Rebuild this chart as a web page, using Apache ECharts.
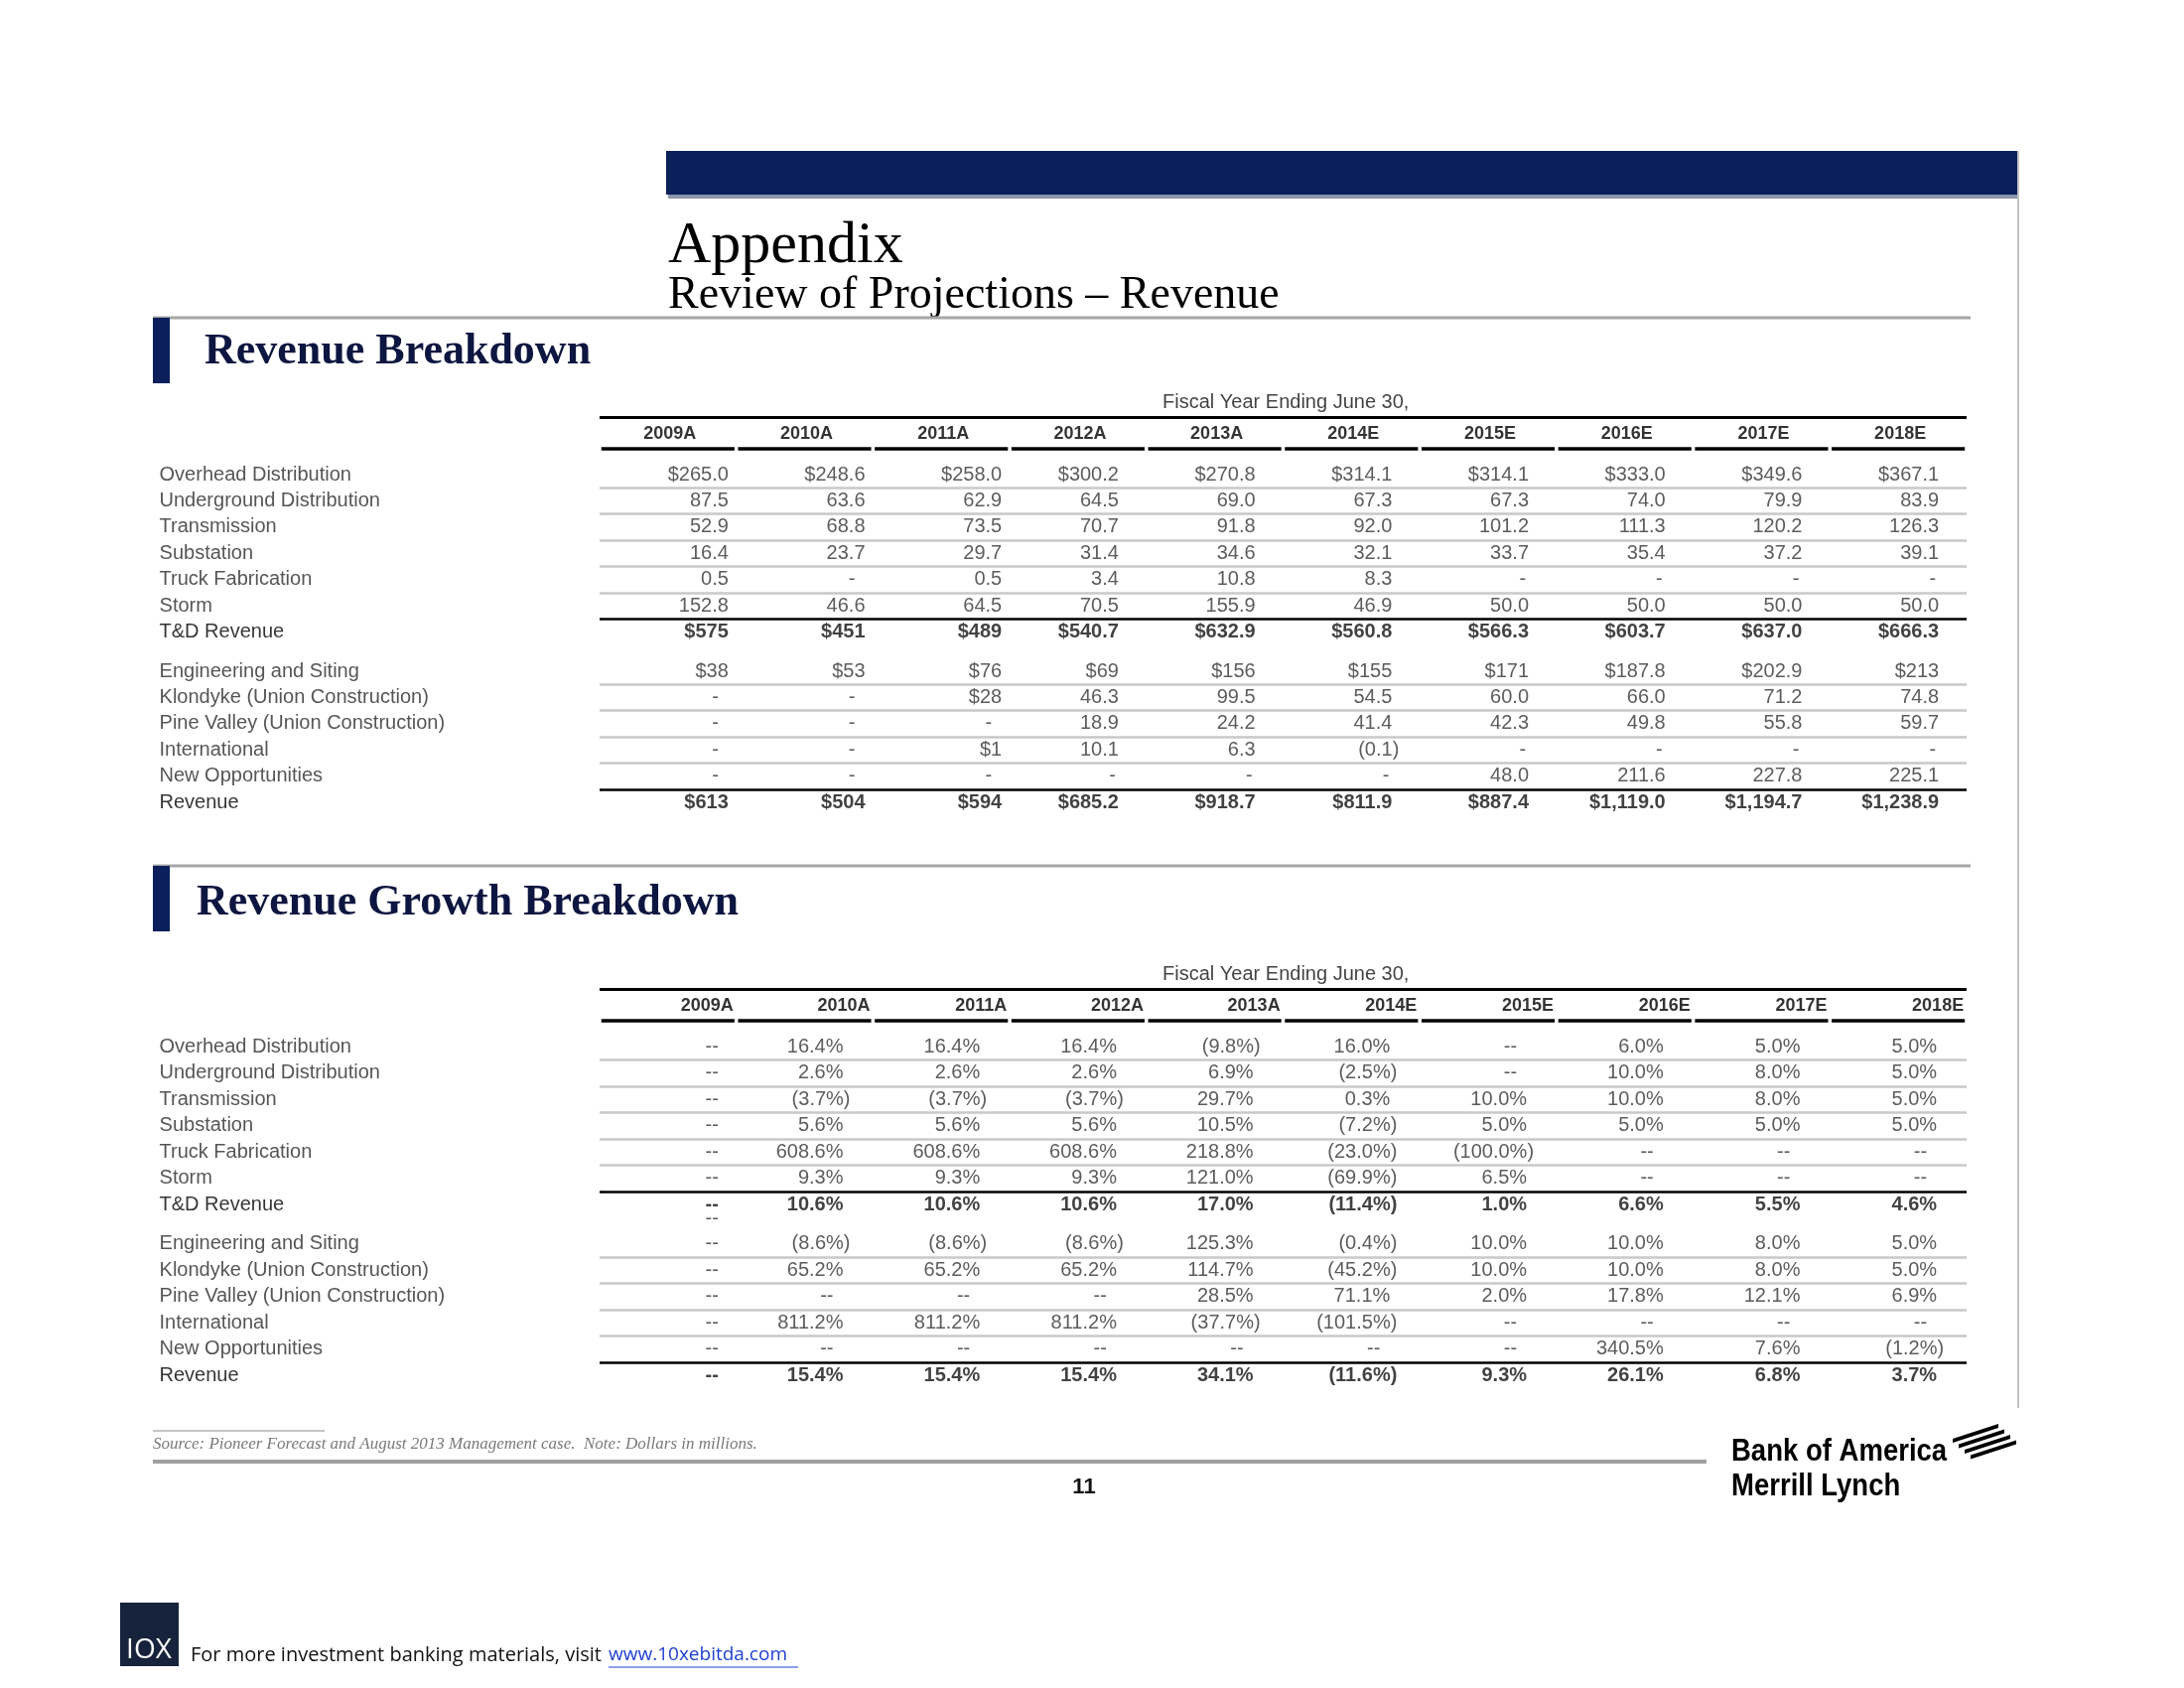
<!DOCTYPE html>
<html><head><meta charset="utf-8">
<script src="https://cdn.jsdelivr.net/npm/echarts@6/dist/echarts.min.js"></script>
<style>html,body{margin:0;padding:0;background:#fff}#c{width:2200px;height:1700px}</style>
</head><body><div id="c"></div>
<script>
// ---------------- DATA ----------------
const columns = ['2009A','2010A','2011A','2012A','2013A','2014E','2015E','2016E','2017E','2018E'];
const rowLabels = ['Overhead Distribution','Underground Distribution','Transmission','Substation','Truck Fabrication','Storm','T&D Revenue',
  'Engineering and Siting','Klondyke (Union Construction)','Pine Valley (Union Construction)','International','New Opportunities','Revenue'];
const fiscalNote = 'Fiscal Year Ending June 30,';

// Revenue Breakdown (dollars in millions, as printed)
const revOverhead      = ['$265.0','$248.6','$258.0','$300.2','$270.8','$314.1','$314.1','$333.0','$349.6','$367.1'];
const revUnderground   = ['87.5','63.6','62.9','64.5','69.0','67.3','67.3','74.0','79.9','83.9'];
const revTransmission  = ['52.9','68.8','73.5','70.7','91.8','92.0','101.2','111.3','120.2','126.3'];
const revSubstation    = ['16.4','23.7','29.7','31.4','34.6','32.1','33.7','35.4','37.2','39.1'];
const revTruck         = ['0.5','-','0.5','3.4','10.8','8.3','-','-','-','-'];
const revStorm         = ['152.8','46.6','64.5','70.5','155.9','46.9','50.0','50.0','50.0','50.0'];
const revTD            = ['$575','$451','$489','$540.7','$632.9','$560.8','$566.3','$603.7','$637.0','$666.3'];
const revEngineering   = ['$38','$53','$76','$69','$156','$155','$171','$187.8','$202.9','$213'];
const revKlondyke      = ['-','-','$28','46.3','99.5','54.5','60.0','66.0','71.2','74.8'];
const revPineValley    = ['-','-','-','18.9','24.2','41.4','42.3','49.8','55.8','59.7'];
const revInternational = ['-','-','$1','10.1','6.3','(0.1)','-','-','-','-'];
const revNewOpp        = ['-','-','-','-','-','-','48.0','211.6','227.8','225.1'];
const revTotal         = ['$613','$504','$594','$685.2','$918.7','$811.9','$887.4','$1,119.0','$1,194.7','$1,238.9'];

// Revenue Growth Breakdown
const grwOverhead      = ['--','16.4%','16.4%','16.4%','(9.8%)','16.0%','--','6.0%','5.0%','5.0%'];
const grwUnderground   = ['--','2.6%','2.6%','2.6%','6.9%','(2.5%)','--','10.0%','8.0%','5.0%'];
const grwTransmission  = ['--','(3.7%)','(3.7%)','(3.7%)','29.7%','0.3%','10.0%','10.0%','8.0%','5.0%'];
const grwSubstation    = ['--','5.6%','5.6%','5.6%','10.5%','(7.2%)','5.0%','5.0%','5.0%','5.0%'];
const grwTruck         = ['--','608.6%','608.6%','608.6%','218.8%','(23.0%)','(100.0%)','--','--','--'];
const grwStorm         = ['--','9.3%','9.3%','9.3%','121.0%','(69.9%)','6.5%','--','--','--'];
const grwTD            = ['--','10.6%','10.6%','10.6%','17.0%','(11.4%)','1.0%','6.6%','5.5%','4.6%'];
const grwEngineering   = ['--','(8.6%)','(8.6%)','(8.6%)','125.3%','(0.4%)','10.0%','10.0%','8.0%','5.0%'];
const grwKlondyke      = ['--','65.2%','65.2%','65.2%','114.7%','(45.2%)','10.0%','10.0%','8.0%','5.0%'];
const grwPineValley    = ['--','--','--','--','28.5%','71.1%','2.0%','17.8%','12.1%','6.9%'];
const grwInternational = ['--','811.2%','811.2%','811.2%','(37.7%)','(101.5%)','--','--','--','--'];
const grwNewOpp        = ['--','--','--','--','--','--','--','340.5%','7.6%','(1.2%)'];
const grwTotal         = ['--','15.4%','15.4%','15.4%','34.1%','(11.6%)','9.3%','26.1%','6.8%','3.7%'];
const grwStray2009     = '--';   // stray mark printed under T&D in the 2009A column

const revenueRows = [revOverhead,revUnderground,revTransmission,revSubstation,revTruck,revStorm,revTD,
  revEngineering,revKlondyke,revPineValley,revInternational,revNewOpp,revTotal];
const growthRows = [grwOverhead,grwUnderground,grwTransmission,grwSubstation,grwTruck,grwStorm,grwTD,
  grwEngineering,grwKlondyke,grwPineValley,grwInternational,grwNewOpp,grwTotal];

// ---------------- LAYOUT ----------------
const rowPos = i => (i <= 6 ? i : i + 0.5);
const LABEL_X = -3.72, HEADER_Y = -1.55, UNDER_Y = -1.0, TOP_Y = -2.17, FISCAL_Y = -2.75, FISCAL_X = 4.52;
const boldRows = [6, 12];
const FONT = 'Liberation Sans, Arial, sans-serif';
const isParen = s => s.charAt(0) === '(';
const isDash = s => s === '-' || s === '--';

function topOffset(c, s) {
  if (isDash(s)) return c <= 2 ? 51 : 38;
  if (c <= 2) return 61;
  return isParen(s) ? 48 : 41;
}
function botOffset(c, s) {
  if (isDash(s)) return c === 0 ? 51 : 29;
  return isParen(s) ? 46 : 39;
}

function tableSeries(gi, rows, offsetFn, headerRight, extra) {
  const baseLabel = { show: true, position: 'inside', verticalAlign: 'middle', fontSize: 20, fontFamily: FONT, color: '#333',
    formatter: p => p.name };
  const cells = [];
  rows.forEach((row, r) => row.forEach((s, c) => {
    const b = boldRows.includes(r);
    cells.push({ name: s, value: [c, rowPos(r)],
      label: { align: 'right', offset: [offsetFn(c, s), 0], fontWeight: b ? 'bold' : 'normal', color: b ? '#111' : '#333' } });
  }));
  (extra || []).forEach(e => cells.push(e));

  const labels = rowLabels.map((l, r) => ({ name: l, value: [LABEL_X, rowPos(r)],
    label: { align: 'left', color: boldRows.includes(r) ? '#000' : '#2a2a2a' } }));

  const headers = columns.map((h, c) => ({ name: h, value: [c, HEADER_Y],
    label: { align: headerRight ? 'right' : 'center', offset: [headerRight ? 66 : 2, 0], fontWeight: 'bold', fontSize: 18, color: '#000' } }));
  headers.push({ name: fiscalNote, value: [FISCAL_X, FISCAL_Y], label: { align: 'center', fontSize: 20, color: '#111' } });

  const lines = [];
  const seg = (x1, x2, y, color, w) => lines.push([{ coord: [x1, y], lineStyle: { color, width: w, type: 'solid' } }, { coord: [x2, y] }]);
  seg(-0.5, 9.5, TOP_Y, '#000', 3);
  columns.forEach((h, c) => seg(c - 0.487, c + 0.487, UNDER_Y, '#000', 3.5));
  [0, 1, 2, 3, 4, 7, 8, 9, 10].forEach(r => seg(-0.5, 9.5, rowPos(r) + 0.5, '#c9c9c9', 2.5));
  [5, 11].forEach(r => seg(-0.5, 9.5, rowPos(r) + 0.5, '#000', 2.5));

  const common = { type: 'scatter', xAxisIndex: gi, yAxisIndex: gi, symbolSize: 1, itemStyle: { color: 'rgba(0,0,0,0)' },
    silent: true, clip: false, animation: false, label: baseLabel, emphasis: { disabled: true } };
  return [
    Object.assign({}, common, { name: 'cells' + gi, data: cells }),
    Object.assign({}, common, { name: 'rows' + gi, data: labels }),
    Object.assign({}, common, { name: 'head' + gi, data: headers,
      markLine: { silent: true, animation: false, symbol: ['none', 'none'], label: { show: false }, emphasis: { disabled: true }, data: lines } })
  ];
}

const series = [].concat(
  tableSeries(0, revenueRows, topOffset, false),
  tableSeries(1, growthRows, botOffset, true,
    [{ name: grwStray2009, value: [0, 6.55], label: { align: 'right', offset: [51, 0] } }])
);

// ---------------- DECORATION ----------------
const NAVY = '#0a1f5c';
const T = (x, y, text, o, extra) => Object.assign({ type: 'text', x, y, silent: true,
  style: Object.assign({ text, fill: '#000', fontFamily: FONT, fontSize: 19, align: 'left', verticalAlign: 'middle' }, o || {}) }, extra || {});
const R = (x, y, w, h, fill) => ({ type: 'rect', silent: true, shape: { x, y, width: w, height: h }, style: { fill } });
const L = (x1, y1, x2, y2, stroke, w) => ({ type: 'line', silent: true, shape: { x1, y1, x2, y2 }, style: { stroke, lineWidth: w } });
const SERIF = 'Liberation Serif, Times New Roman, serif';
const NARROW = 'Liberation Sans Narrow, Liberation Sans, sans-serif';

const flagStripes = [0, 1, 2, 3].map(k => {
  const x0 = 1967 + 6 * k, y0 = 1449 + 5.5 * k;
  return { type: 'polygon', silent: true,
    shape: { points: [[x0, y0], [x0 + 46, y0 - 15], [x0 + 46, y0 - 11], [x0, y0 + 4]] }, style: { fill: '#000' } };
});

const graphic = [
  R(673, 196, 1361, 4, '#8d95aa'),
  R(671, 152, 1361, 44, NAVY),
  L(2033, 152, 2033, 1418, '#c4c4c4', 2),
  T(673, 248, 'Appendix', { fontFamily: SERIF, fontSize: 60 }),
  T(673, 298, 'Review of Projections \u2013 Revenue', { fontFamily: SERIF, fontSize: 46 }),
  L(154, 320, 1985, 320, '#a6a6a6', 3),
  R(154, 320, 17, 66, NAVY),
  T(206, 355, 'Revenue Breakdown', { fontFamily: SERIF, fontSize: 44, fontWeight: 'bold', fill: '#0d1640' }),
  L(154, 872, 1985, 872, '#a6a6a6', 3),
  R(154, 872, 17, 66, NAVY),
  T(198, 910, 'Revenue Growth Breakdown', { fontFamily: SERIF, fontSize: 44, fontWeight: 'bold', fill: '#0d1640' }),
  L(154, 1441, 327, 1441, '#b0b0b0', 1.5),
  T(154, 1455, 'Source: Pioneer Forecast and August 2013 Management case.  Note: Dollars in millions.',
    { fontFamily: SERIF, fontSize: 17, fontStyle: 'italic', fill: '#7a7a7a' }),
  L(154, 1472, 1719, 1472, '#a0a0a0', 4),
  T(1092, 1498, '11', { fontSize: 22, fontWeight: 'bold', align: 'center', fill: '#111' }),
  T(1744, 1462, 'Bank of America', { fontFamily: NARROW, fontSize: 32, fontWeight: 'bold', fill: '#000' }, { scaleX: 0.86 }),
  T(1744, 1497, 'Merrill Lynch', { fontFamily: NARROW, fontSize: 32, fontWeight: 'bold', fill: '#000' }, { scaleX: 0.86 })
].concat(flagStripes, [
  R(121, 1614, 59, 64, '#17233b'),
  T(150, 1662, 'IOX', { fontFamily: 'Open Sans, sans-serif', fontSize: 28, fill: '#ffffff', align: 'center' }),
  T(192, 1667, 'For more investment banking materials, visit ', { fontFamily: 'Open Sans, sans-serif', fontSize: 20, fill: '#111' }),
  T(613, 1667, 'www.10xebitda.com', { fontFamily: 'Open Sans, sans-serif', fontSize: 19, fill: '#1f3fd0' }),
  L(613, 1679, 804, 1679, '#1f3fd0', 1.2)
]);

// ---------------- CHART ----------------
const chart = echarts.init(document.getElementById('c'), null, { renderer: 'canvas' });
const hiddenAxis = { show: false, splitLine: { show: false } };
chart.setOption({
  backgroundColor: '#ffffff',
  animation: false,
  grid: [
    { left: 122, right: 219, top: 398.8, height: 435.6 },
    { left: 122, right: 219, top: 974.5, height: 437.25 }
  ],
  xAxis: [
    Object.assign({ type: 'value', gridIndex: 0, min: -4, max: 9.5 }, hiddenAxis),
    Object.assign({ type: 'value', gridIndex: 1, min: -4, max: 9.5 }, hiddenAxis)
  ],
  yAxis: [
    Object.assign({ type: 'value', gridIndex: 0, min: -3, max: 13.5, inverse: true }, hiddenAxis),
    Object.assign({ type: 'value', gridIndex: 1, min: -3, max: 13.5, inverse: true }, hiddenAxis)
  ],
  graphic: graphic,
  series: series
});
</script>
</body></html>
